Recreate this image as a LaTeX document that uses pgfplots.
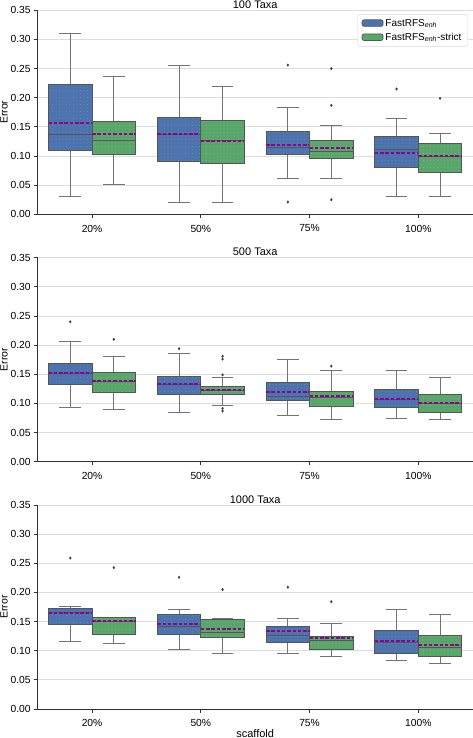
\documentclass[border=0pt]{standalone}
\usepackage{pgfplots}
\pgfplotsset{compat=1.18}
\usepgfplotslibrary{statistics}
\usetikzlibrary{patterns.meta}
\usepackage{fontspec}
\setmainfont{Liberation Sans}

\definecolor{sbblue}{RGB}{76,114,176}
\definecolor{sbgreen}{RGB}{85,168,104}
\definecolor{edge}{RGB}{85,85,85}
\definecolor{whisk}{RGB}{115,115,115}
\definecolor{flier}{RGB}{60,60,60}
\definecolor{dotblue}{RGB}{110,165,135}
\definecolor{dotgreen}{RGB}{210,150,180}
\definecolor{meancol}{RGB}{145,0,145}
\definecolor{gridgray}{RGB}{221,221,221}
\definecolor{axisgray}{RGB}{50,50,50}
\definecolor{legendgray}{RGB}{215,215,215}

\pgfplotsset{
  boxplot/draw/average/.code={%
    \draw[meancol, line width=2pt, dash pattern=on 3.5pt off 1.8pt]
      (boxplot box cs:\pgfplotsboxplotvalue{average},0) --
      (boxplot box cs:\pgfplotsboxplotvalue{average},1);},
  commonbox/.style={draw=edge, line width=0.9pt, forget plot,
    boxplot/draw direction=y,
    boxplot/box extend=0.4, boxplot/whisker extend=0.2,
    mark=diamond*, mark size=1.3pt,
    mark options={fill=flier, draw=flier, line width=0.3pt, solid},
    boxplot/every whisker/.style={draw=whisk},
    boxplot/every median/.style={draw=edge, line width=0.9pt}},
  bluebox/.style={commonbox,
    boxplot/every box/.style={fill=sbblue,
      postaction={pattern={Dots[radius=0.4pt,distance=3.5pt]}, pattern color=dotblue}}},
  greenbox/.style={commonbox,
    boxplot/every box/.style={fill=sbgreen,
      postaction={pattern={Dots[radius=0.4pt,distance=3.5pt]}, pattern color=dotgreen}}},
  panel/.style={
    width=435pt, height=204pt, scale only axis,
    anchor=south west,
    xmin=-0.5, xmax=3.5, ymin=0, ymax=0.35,
    xtick={0,1,2,3}, xticklabels={20\%,50\%,75\%,100\%},
    ytick={0,0.05,0.1,0.15,0.2,0.25,0.3,0.35},
    yticklabel style={/pgf/number format/.cd, fixed, fixed zerofill, precision=2},
    /pgf/number format/assume math mode=true,
    tick label style={font=\fontsize{10.3}{12}\selectfont},
    xticklabel style={yshift=-3.5pt},
    ymajorgrids, grid style={line width=0.9pt, draw=gridgray},
    axis x line*=bottom, axis y line*=left,
    axis line style={draw=axisgray, line width=0.9pt},
    tick style={draw=axisgray, line width=0.8pt},
    major tick length=3.5pt, tick align=outside,
    title style={at={(0.5,1)}, anchor=base, yshift=-4pt, inner sep=0pt,
      font=\fontsize{11}{13}\selectfont},
    ylabel=Error,
    ylabel style={at={([xshift=-30.2pt]axis description cs:0,0.5)}, rotate=0,
      anchor=base, inner sep=0pt, font=\fontsize{10.5}{12}\selectfont},
    xlabel style={at={([yshift=-20pt]axis description cs:0.5,0)}, anchor=north,
      inner sep=0pt, font=\fontsize{11}{13}\selectfont},
  },
}

% draw position, lower whisker, Q1, median, Q3, upper whisker, mean, outliers
\newcommand{\bp}[9]{\addplot[#1, boxplot prepared={draw position=#2,
  lower whisker=#3, lower quartile=#4, median=#5, upper quartile=#6,
  upper whisker=#7, average=#8}] #9;}

\begin{document}
\begin{tikzpicture}
\useasboundingbox (0,0) rectangle (473pt,-738pt);

% ---------------- 100 Taxa ----------------
\begin{axis}[panel, at={(37.7pt,-214.3pt)}, title={100 Taxa},
  legend style={at={(rel axis cs:0.9885,0.98)}, anchor=north east,
    draw=legendgray, fill=white, rounded corners=2pt,
    font=\fontsize{10}{11}\selectfont, inner xsep=4pt, inner ysep=2.5pt,
    row sep=1.5pt},
  legend cell align=left]
\addlegendimage{legend image code/.code={\draw[fill=sbblue, draw=edge, line width=0.7pt] (0pt,-3pt) rectangle (21pt,3.5pt);}}
\addlegendentry{FastRFS\textsubscript{\textit{enh}}}
\addlegendimage{legend image code/.code={\draw[fill=sbgreen, draw=edge, line width=0.7pt] (0pt,-3pt) rectangle (21pt,3.5pt);}}
\addlegendentry{FastRFS\textsubscript{\textit{enh}}-strict}
\bp{bluebox}{-0.2}{0.030}{0.109}{0.137}{0.222}{0.311}{0.156}{coordinates {}}
\bp{greenbox}{0.2}{0.051}{0.102}{0.127}{0.160}{0.236}{0.137}{coordinates {}}
\bp{bluebox}{0.8}{0.021}{0.091}{0.137}{0.167}{0.256}{0.137}{coordinates {}}
\bp{greenbox}{1.2}{0.021}{0.087}{0.126}{0.161}{0.220}{0.126}{coordinates {}}
\bp{bluebox}{1.8}{0.061}{0.102}{0.114}{0.143}{0.184}{0.119}{table[row sep=\\,y index=0]{d\\0.256\\0.021\\}}
\bp{greenbox}{2.2}{0.061}{0.096}{0.108}{0.127}{0.153}{0.113}{table[row sep=\\,y index=0]{d\\0.250\\0.187\\0.025\\}}
\bp{bluebox}{2.8}{0.030}{0.081}{0.112}{0.133}{0.164}{0.106}{table[row sep=\\,y index=0]{d\\0.215\\}}
\bp{greenbox}{3.2}{0.030}{0.071}{0.100}{0.122}{0.138}{0.100}{table[row sep=\\,y index=0]{d\\0.199\\}}
\end{axis}

% ---------------- 500 Taxa ----------------
\begin{axis}[panel, at={(37.7pt,-461.7pt)}, title={500 Taxa}]
\bp{bluebox}{-0.2}{0.093}{0.132}{0.152}{0.169}{0.207}{0.153}{table[row sep=\\,y index=0]{d\\0.240\\}}
\bp{greenbox}{0.2}{0.089}{0.119}{0.137}{0.153}{0.180}{0.138}{table[row sep=\\,y index=0]{d\\0.210\\}}
\bp{bluebox}{0.8}{0.084}{0.116}{0.132}{0.146}{0.185}{0.133}{table[row sep=\\,y index=0]{d\\0.194\\}}
\bp{greenbox}{1.2}{0.097}{0.116}{0.123}{0.129}{0.145}{0.123}{table[row sep=\\,y index=0]{d\\0.181\\0.176\\0.149\\0.0915\\0.087\\}}
\bp{bluebox}{1.8}{0.080}{0.105}{0.112}{0.136}{0.176}{0.120}{coordinates {}}
\bp{greenbox}{2.2}{0.073}{0.0955}{0.111}{0.120}{0.156}{0.112}{table[row sep=\\,y index=0]{d\\0.164\\}}
\bp{bluebox}{2.8}{0.074}{0.093}{0.107}{0.124}{0.156}{0.108}{coordinates {}}
\bp{greenbox}{3.2}{0.073}{0.085}{0.100}{0.115}{0.145}{0.101}{coordinates {}}
\end{axis}

% ---------------- 1000 Taxa ----------------
\begin{axis}[panel, at={(37.7pt,-709pt)}, title={1000 Taxa}, xlabel={scaffold}]
\bp{bluebox}{-0.2}{0.116}{0.145}{0.165}{0.173}{0.176}{0.165}{table[row sep=\\,y index=0]{d\\0.259\\}}
\bp{greenbox}{0.2}{0.113}{0.1275}{0.151}{0.157}{0.157}{0.1515}{table[row sep=\\,y index=0]{d\\0.2425\\}}
\bp{bluebox}{0.8}{0.102}{0.128}{0.142}{0.162}{0.170}{0.146}{table[row sep=\\,y index=0]{d\\0.226\\}}
\bp{greenbox}{1.2}{0.096}{0.122}{0.1315}{0.154}{0.1556}{0.137}{table[row sep=\\,y index=0]{d\\0.205\\}}
\bp{bluebox}{1.8}{0.096}{0.115}{0.127}{0.141}{0.156}{0.134}{table[row sep=\\,y index=0]{d\\0.209\\}}
\bp{greenbox}{2.2}{0.090}{0.102}{0.118}{0.125}{0.147}{0.122}{table[row sep=\\,y index=0]{d\\0.184\\}}
\bp{bluebox}{2.8}{0.0835}{0.095}{0.114}{0.1355}{0.170}{0.117}{coordinates {}}
\bp{greenbox}{3.2}{0.079}{0.090}{0.106}{0.126}{0.162}{0.110}{coordinates {}}
\end{axis}
\end{tikzpicture}
\end{document}
